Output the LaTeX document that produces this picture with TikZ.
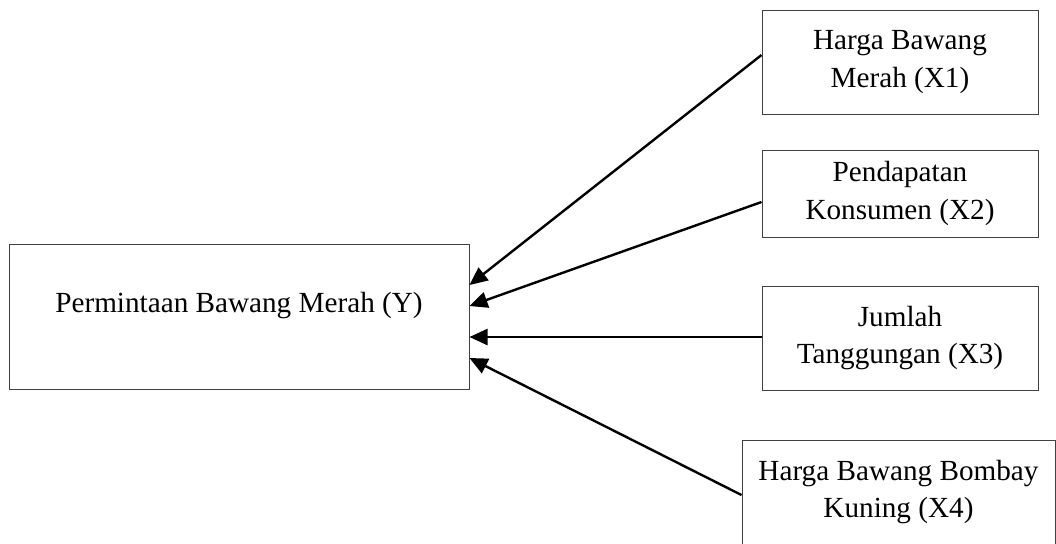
\documentclass[tikz,border=0pt]{standalone}
\usepackage{fontspec}
\setmainfont{Liberation Serif}
\usetikzlibrary{arrows.meta}

\begin{document}
\begin{tikzpicture}[x=0.5pt,y=-0.5pt,
  box/.style={rectangle,draw=black!75,line width=0.5pt,align=center,inner sep=0pt,
    font=\fontsize{14.6pt}{18.8pt}\selectfont},
  link/.style={-{Triangle[length=9pt,width=8pt]},line width=1.2pt}]
\clip (0,0) rectangle (1056,543);
\node[box,minimum width=230pt,minimum height=72.5pt,text height=10pt,text depth=14.5pt](1) at (239,316.5){Permintaan Bawang Merah (Y)};
\node[box,minimum width=138pt,minimum height=52pt](2) at (900,62){Harga Bawang\\Merah (X1)};
\node[box,minimum width=138pt,minimum height=43.5pt](3) at (900,193.5){Pendapatan\\Konsumen (X2)};
\node[box,minimum width=138pt,minimum height=52pt](4) at (900,338){Jumlah\\Tanggungan (X3)};
\node[box,minimum width=156.5pt,minimum height=52pt](5) at (898.5,492){Harga Bawang Bombay\\Kuning (X4)};
\draw[link]([yshift=3.5pt]2.west) -- ([yshift=15.75pt]1.east);
\draw[link]([yshift=-4.25pt]3.west) -- ([yshift=5.25pt]1.east);
\draw[link]([yshift=0.5pt]4.west) -- ([yshift=-10.25pt]1.east);
\draw[link]([yshift=-1.5pt]5.west) -- ([yshift=-20.75pt]1.east);
\end{tikzpicture}
\end{document}
